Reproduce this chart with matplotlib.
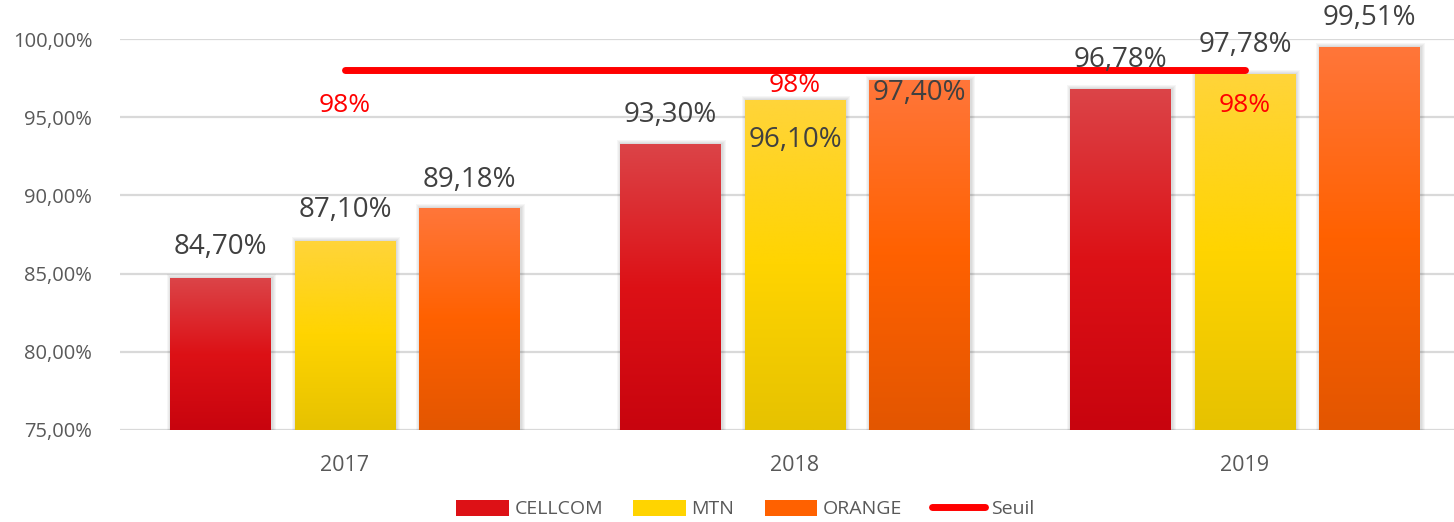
import numpy as np
import matplotlib
matplotlib.use("Agg")
import matplotlib.pyplot as plt
from matplotlib.colors import LinearSegmentedColormap
from matplotlib.patches import Rectangle, Patch
from matplotlib.lines import Line2D

plt.rcParams["font.family"] = ["Open Sans", "DejaVu Sans"]

# data
years = ["2017", "2018", "2019"]
operators = ["CELLCOM", "MTN", "ORANGE"]
cellcom = [84.70, 93.30, 96.78]
mtn = [87.10, 96.10, 97.78]
orange = [89.18, 97.40, 99.51]
seuil = [98, 98, 98]

values = [cellcom, mtn, orange]
gradients = [
    ["#DB4448", "#DD1116", "#C8040E"],
    ["#FFD43A", "#FFD400", "#E6C200"],
    ["#FF763A", "#FF6100", "#E35600"],
]
# label offsets in pixels (as placed in the original chart)
label_dy = [
    [31, 29, 29],
    [31, -40, 29],
    [28, -13, 29],
]
seuil_dy = [-35, -15, -35]

fig = plt.figure(figsize=(14.54, 5.22), dpi=100)
ax = fig.add_axes([120 / 1454, 92 / 522, 1350 / 1454, 391 / 522])

x = np.arange(len(years))
pitch = 0.277
width = 0.224
ymin, ymax = 75, 100

for i, (vals, cols) in enumerate(zip(values, gradients)):
    pos = x + (i - 1) * pitch
    bars = ax.bar(pos, np.array(vals) - ymin, width, bottom=ymin, color="none",
                  edgecolor="none", zorder=3)
    cmap = LinearSegmentedColormap.from_list("g%d" % i, cols[::-1])
    grad = np.linspace(0, 1, 256).reshape(-1, 1)
    for b, v in zip(bars, vals):
        x0, w = b.get_x(), b.get_width()
        # soft shadow
        for k in range(1, 5):
            dx, dy = k * 0.0022, k * 0.064
            ax.add_patch(Rectangle((x0 - dx + 0.002, ymin), w + 2 * dx, v - ymin + dy,
                                   color="black", alpha=0.035, lw=0, zorder=2))
        im = ax.imshow(grad, extent=[x0, x0 + w, ymin, v], origin="lower",
                       cmap=cmap, aspect="auto", zorder=3)
        im.set_clip_path(b)
    for xp, v, dy in zip(pos, vals, label_dy[i]):
        ax.annotate(("%.2f%%" % v).replace(".", ","), (xp, v), xytext=(0, dy),
                    textcoords="offset pixels", ha="center", va="center",
                    fontsize=20, color="#404040", zorder=6, annotation_clip=False)

ax.plot(x, seuil, color="#FF0000", lw=5, solid_capstyle="round", zorder=5)
for xp, v, dy in zip(x, seuil, seuil_dy):
    ax.annotate("%d%%" % v, (xp, v), xytext=(0, dy), textcoords="offset pixels",
                ha="center", va="center", fontsize=19, color="#FF0000", zorder=6)

ax.set_xlim(-0.5, 2.5)
ax.set_ylim(ymin, ymax)
ax.set_yticks(np.arange(75, 101, 5))
ax.set_yticklabels([("%.2f%%" % t).replace(".", ",") for t in np.arange(75, 101, 5)])
ax.set_xticks(x)
ax.set_xticklabels(years)
ax.grid(axis="y", color="#D9D9D9", lw=1.6, zorder=0)
ax.set_axisbelow(True)
for s in ax.spines.values():
    s.set_visible(False)
ax.tick_params(axis="y", length=0, pad=20, labelsize=14.5, labelcolor="#595959")
ax.tick_params(axis="x", length=0, pad=18, labelsize=15.5, labelcolor="#595959")

handles = [Patch(facecolor=g[1], edgecolor="none") for g in gradients]
handles.append(Line2D([0], [0], color="#FF0000", lw=5, solid_capstyle="round"))
fig.legend(handles, operators + ["Seuil"], loc="center", ncol=4,
           bbox_to_anchor=(745 / 1454, 1 - 509 / 522), frameon=False,
           fontsize=14, labelcolor="#595959", handlelength=2.7, handleheight=0.9,
           columnspacing=1.55, handletextpad=0.3)

fig.savefig("out.png", dpi=100)
